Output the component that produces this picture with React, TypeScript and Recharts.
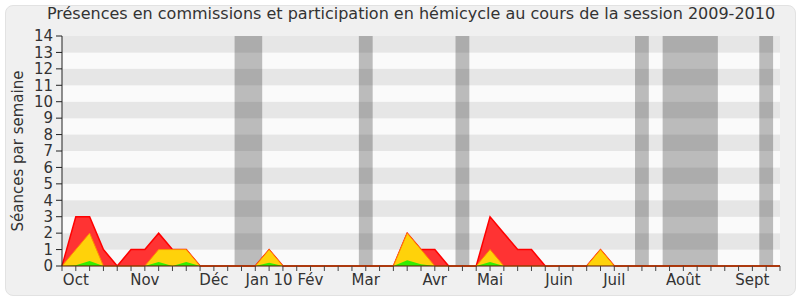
import {
  Area,
  ComposedChart,
  ReferenceArea,
  XAxis,
  YAxis,
} from "recharts";

// semaines de la session 2009-2010 (index 0..52)
const weeks = Array.from({ length: 53 }, (_, i) => i);

// valeurs (séances par semaine)
const total = [
  0, 3, 3, 1, 0, 1, 1, 2, 1, 1, 0, 0, 0, 0, 0, 1, 0, 0, 0, 0, 0, 0, 0, 0, 0, 2,
  1, 1, 0, 0, 0, 3, 2, 1, 1, 0, 0, 0, 0, 1, 0, 0, 0, 0, 0, 0, 0, 0, 0, 0, 0, 0, 0,
];
const commission = [
  0, 1, 2, 0, 0, 0, 0, 1, 1, 1, 0, 0, 0, 0, 0, 1, 0, 0, 0, 0, 0, 0, 0, 0, 0, 2,
  1, 0, 0, 0, 0, 1, 0, 0, 0, 0, 0, 0, 0, 1, 0, 0, 0, 0, 0, 0, 0, 0, 0, 0, 0, 0, 0,
];
const hemicycle = [
  0, 0.05, 0.3, 0, 0, 0, 0, 0.25, 0, 0.25, 0, 0, 0, 0, 0, 0.2, 0, 0, 0, 0, 0, 0,
  0, 0, 0, 0.35, 0.1, 0, 0, 0, 0, 0.25, 0, 0, 0, 0, 0, 0, 0, 0, 0, 0, 0, 0, 0, 0,
  0, 0, 0, 0, 0, 0, 0,
];

// vacances parlementaires (semaines début/fin)
const vacStart = [13, 22, 29, 42, 44, 51];
const vacEnd = [14, 22, 29, 42, 47, 51];

const monthWeeks = [1, 6, 11, 15, 18, 22, 27, 31, 36, 40, 45, 50];
const monthLabels = ["Oct", "Nov", "Déc", "Jan 10", "Fév", "Mar", "Avr", "Mai", "Juin", "Juil", "Août", "Sept"];

const yTicks = Array.from({ length: 15 }, (_, i) => i);

const FONT = "DejaVu Sans, Verdana, sans-serif";
const TEXT = "#333333";

const data = weeks.map((w, i) => ({
  week: w,
  total: total[i],
  commission: commission[i],
  hemicycle: hemicycle[i],
}));

function MonthTick(props: any) {
  const { x, y, payload } = props;
  const idx = monthWeeks.indexOf(payload.value);
  if (idx < 0) return <g />;
  return (
    <text x={x} y={y} dy={12} textAnchor="middle" fontSize={15} fill={TEXT} fontFamily={FONT}>
      {monthLabels[idx]}
    </text>
  );
}

export default function App() {
  return (
    <div style={{ position: "absolute", left: 0, top: 0, width: 800, height: 300, background: "#fff" }}>
      <div
        style={{
          position: "absolute",
          left: 5,
          top: 5,
          width: 789,
          height: 289,
          background: "#f0f0f0",
          border: "1px solid #e2e2e2",
          borderRadius: 8,
        }}
      />
      <div
        style={{
          position: "absolute",
          left: 0,
          top: 4,
          width: 822,
          textAlign: "center",
          fontFamily: FONT,
          fontSize: 16,
          color: TEXT,
          whiteSpace: "nowrap",
        }}
      >
        Présences en commissions et participation en hémicycle au cours de la session 2009-2010
      </div>
      <div style={{ position: "absolute", left: 0, top: 0 }}>
        <ComposedChart
          width={800}
          height={300}
          data={data}
          margin={{ top: 34, right: 20, bottom: 0, left: 22 }}
        >
          <XAxis
            xAxisId="top"
            orientation="top"
            dataKey="week"
            type="number"
            domain={[0, 52]}
            ticks={weeks}
            height={2}
            tickSize={2}
            tick={false}
            axisLine={false}
            tickLine={{ stroke: "#222", strokeDasharray: "1 1" }}
          />
          <XAxis
            dataKey="week"
            type="number"
            domain={[0, 52]}
            ticks={weeks}
            interval={0}
            height={34}
            tickSize={5}
            tickMargin={2}
            tick={<MonthTick />}
            axisLine={{ stroke: "#5a1000" }}
            tickLine={{ stroke: "#444" }}
          />
          <YAxis
            type="number"
            domain={[0, 14]}
            ticks={yTicks}
            interval={0}
            width={40}
            tickSize={6}
            tickMargin={3}
            tick={{ fontSize: 15, fill: TEXT, fontFamily: FONT }}
            axisLine={{ stroke: "#222" }}
            tickLine={{ stroke: "#222" }}
            label={{
              value: "Séances par semaine",
              angle: -90,
              position: "insideLeft",
              offset: -4,
              style: { textAnchor: "middle", fontSize: 15, fill: TEXT, fontFamily: FONT },
            }}
          />
          {yTicks.slice(0, 14).map((k) => (
            <ReferenceArea
              key={`stripe-${k}`}
              x1={0}
              x2={52}
              y1={k}
              y2={k + 1}
              fill={k % 2 === 1 ? "#e6e6e6" : "#fafafa"}
              fillOpacity={1}
              stroke="none"
            />
          ))}
          {vacStart.map((s, i) => (
            <ReferenceArea
              key={`vac-${i}`}
              x1={s - 0.5}
              x2={vacEnd[i] + 0.5}
              y1={0}
              y2={14}
              fill="#000"
              fillOpacity={0.25}
              stroke="none"
            />
          ))}
          <Area
            type="linear"
            dataKey="total"
            stroke="#ff0000"
            strokeWidth={1.5}
            fill="#ff3333"
            fillOpacity={1}
            isAnimationActive={false}
          />
          <Area
            type="linear"
            dataKey="commission"
            stroke="#ff8c00"
            strokeWidth={1}
            fill="#ffd20a"
            fillOpacity={1}
            isAnimationActive={false}
          />
          <Area
            type="linear"
            dataKey="hemicycle"
            stroke="none"
            fill="#33ee00"
            fillOpacity={1}
            isAnimationActive={false}
          />
        </ComposedChart>
      </div>
    </div>
  );
}
